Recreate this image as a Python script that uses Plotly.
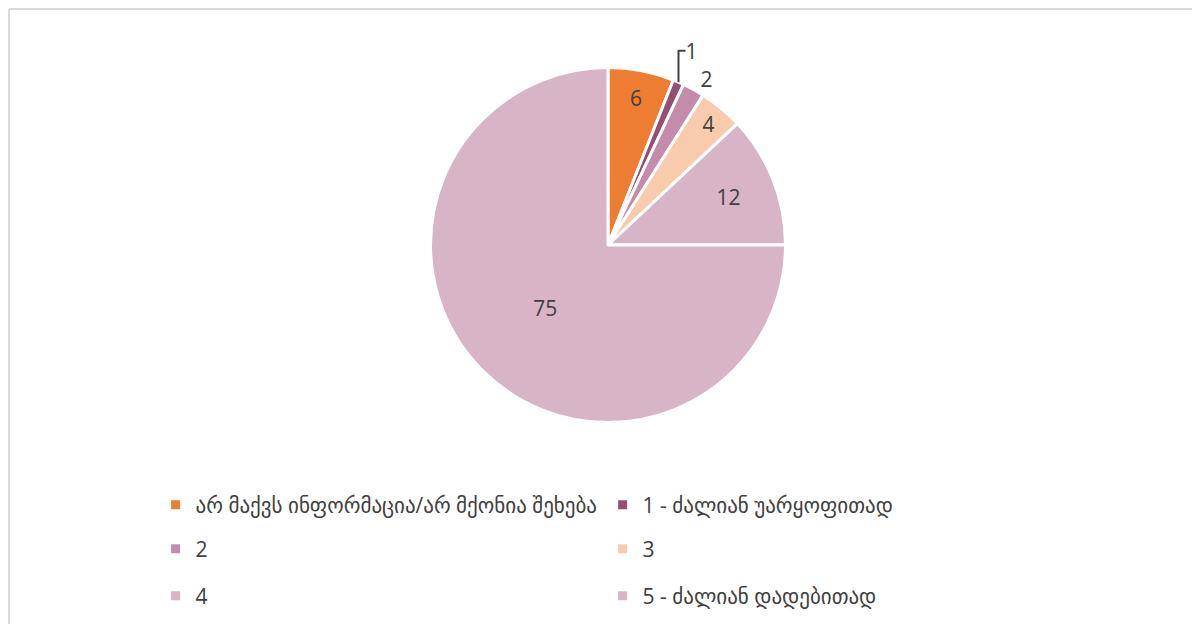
import plotly.graph_objects as go

labels = ["არ მაქვს ინფორმაცია/არ მქონია შეხება", "1 - ძალიან უარყოფითად", "2", "3", "4", "5 - ძალიან დადებითად"]
values = [6, 1, 2, 4, 12, 75]
colors = ["#ED7D31", "#954F72", "#C48BAB", "#F8CBAD", "#D7B4C6", "#D7B4C6"]
text_positions = ["inside", "outside", "outside", "inside", "inside", "inside"]
legend_ids = ["legend", "legend", "legend2", "legend2", "legend3", "legend3"]

FONT = "Open Sans, DejaVu Sans, sans-serif"
TXT = "#404040"
W, H = 1200, 624

fig = go.Figure()
fig.add_trace(go.Pie(
    labels=labels, values=values, sort=False, direction="clockwise", rotation=0,
    marker=dict(colors=colors, line=dict(color="white", width=3)),
    textinfo="value", textposition=text_positions,
    insidetextorientation="horizontal",
    textfont=dict(size=21, color=TXT, family=FONT),
    showlegend=False, hoverinfo="label+value",
    domain=dict(x=[0.3521, 0.6479], y=[0.3357, 0.9046]),
))

for lab, col, lg in zip(labels, colors, legend_ids):
    fig.add_trace(go.Scatter(
        x=[None], y=[None], mode="markers", name=lab,
        marker=dict(symbol="square", size=9, color=col),
        legend=lg, showlegend=True, hoverinfo="skip",
    ))

leg_common = dict(orientation="h", entrywidth=402, entrywidthmode="pixels",
                  font=dict(size=21, color=TXT, family=FONT),
                  xanchor="left", yanchor="middle", bgcolor="rgba(0,0,0,0)",
                  itemclick=False, itemdoubleclick=False)

fig.update_layout(
    width=W, height=H,
    margin=dict(l=0, r=0, t=0, b=0),
    paper_bgcolor="white", plot_bgcolor="white",
    xaxis=dict(visible=False), yaxis=dict(visible=False),
    legend=dict(x=0.123, y=1 - 497 / H, **leg_common),
    legend2=dict(x=0.123, y=1 - 541 / H, **leg_common),
    legend3=dict(x=0.123, y=1 - 588 / H, **leg_common),
    shapes=[
        dict(type="line", xref="paper", yref="paper", x0=1 / W, x1=1, y0=1 - 1 / H, y1=1 - 1 / H,
             line=dict(color="#D9D9D9", width=2)),
        dict(type="line", xref="paper", yref="paper", x0=1 / W, x1=1 / W, y0=0, y1=1 - 1 / H,
             line=dict(color="#D9D9D9", width=2)),
    ],
)

fig.write_html("out.html")
